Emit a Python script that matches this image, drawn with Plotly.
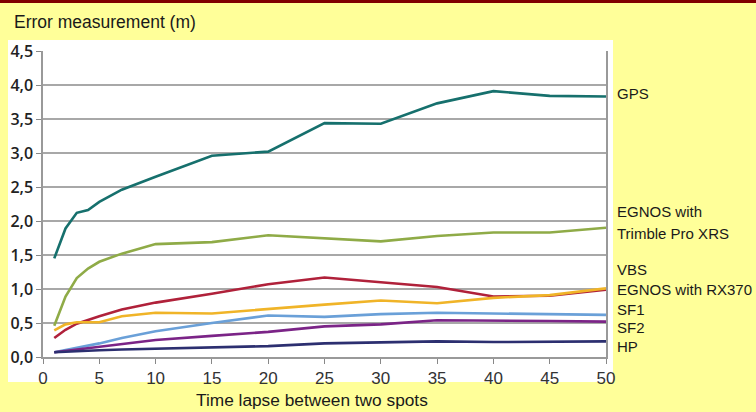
import plotly.graph_objects as go

time_lapse = [1, 2, 3, 4, 5, 7, 10, 15, 20, 25, 30, 35, 40, 45, 50]

gps = [1.45, 1.89, 2.12, 2.16, 2.28, 2.46, 2.65, 2.96, 3.02, 3.44, 3.43, 3.73, 3.91, 3.84, 3.83]
egnos_trimble = [0.46, 0.89, 1.16, 1.30, 1.40, 1.52, 1.66, 1.69, 1.79, 1.75, 1.70, 1.78, 1.83, 1.83, 1.90]
egnos_rx370 = [0.28, 0.40, 0.49, 0.55, 0.60, 0.70, 0.80, 0.93, 1.07, 1.17, 1.10, 1.03, 0.89, 0.90, 0.99]
vbs = [0.39, 0.48, 0.51, 0.51, 0.51, 0.60, 0.65, 0.64, 0.71, 0.77, 0.83, 0.79, 0.87, 0.91, 1.01]
sf1 = [0.07, 0.10, 0.13, 0.17, 0.20, 0.28, 0.38, 0.50, 0.61, 0.59, 0.63, 0.65, 0.64, 0.62, 0.62]
sf2 = [0.07, 0.09, 0.11, 0.12, 0.14, 0.19, 0.25, 0.31, 0.37, 0.45, 0.48, 0.54, 0.54, 0.53, 0.52]
hp = [0.07, 0.08, 0.09, 0.09, 0.10, 0.11, 0.12, 0.14, 0.16, 0.20, 0.22, 0.23, 0.22, 0.23, 0.23]

series_names = ["GPS", "EGNOS with Trimble Pro XRS", "EGNOS with RX370", "VBS", "SF1", "SF2", "HP"]
series_values = [gps, egnos_trimble, egnos_rx370, vbs, sf1, sf2, hp]
series_colors = ["#16706d", "#8fab47", "#b0213a", "#f0b428", "#6aa0d8", "#7b2487", "#2c2f70"]

# right-hand labels (text, y position in axis units)
label_texts = ["GPS", "EGNOS with", "Trimble Pro XRS", "VBS", "EGNOS with RX370", "SF1", "SF2", "HP"]
label_y = [3.88, 2.14, 1.82, 1.28, 0.99, 0.70, 0.44, 0.15]

y_ticks = [0, 0.5, 1, 1.5, 2, 2.5, 3, 3.5, 4, 4.5]
x_ticks = [0, 5, 10, 15, 20, 25, 30, 35, 40, 45, 50]

fig = go.Figure()
for name, vals, col in zip(series_names, series_values, series_colors):
    fig.add_trace(go.Scatter(x=time_lapse, y=vals, mode="lines", name=name,
                             line=dict(color=col, width=2.6), showlegend=False))

W, H = 756, 412
ml, mr, mt, mb = 43, 150, 51, 55
pw, ph = W - ml - mr, H - mt - mb

def px(x):
    return (x - ml) / pw

def py(y):
    return (H - mb - y) / ph

shapes = [
    dict(type="rect", xref="paper", yref="paper", x0=px(8), x1=px(613), y0=py(382), y1=py(40),
         fillcolor="white", line=dict(width=0), layer="below"),
    dict(type="rect", xref="paper", yref="paper", x0=px(0), x1=px(W), y0=py(3), y1=py(0),
         fillcolor="#800000", line=dict(width=0), layer="above"),
]

annotations = [
    dict(text="Error measurement (m)", xref="paper", yref="paper", x=px(12), y=py(22),
         xanchor="left", yanchor="middle", showarrow=False,
         font=dict(family="Liberation Sans, Arial", size=17.5, color="#1a1a1a")),
    dict(text="Time lapse between two spots", xref="paper", yref="paper", x=px(312), y=py(400),
         xanchor="center", yanchor="middle", showarrow=False,
         font=dict(family="Liberation Sans, Arial", size=17.3, color="#1a1a1a")),
]
for t, yv in zip(label_texts, label_y):
    annotations.append(dict(text=t, xref="paper", yref="y", x=px(615), y=yv,
                            xanchor="left", yanchor="middle", showarrow=False,
                            font=dict(family="Liberation Sans, Arial", size=15, color="#1a1a1a")))

fig.update_layout(
    width=W, height=H,
    margin=dict(l=ml, r=mr, t=mt, b=mb, pad=0),
    paper_bgcolor="#ffff99",
    plot_bgcolor="white",
    separators=", ",
    shapes=shapes,
    annotations=annotations,
    xaxis=dict(range=[0, 50], tickvals=x_ticks, ticks="outside", ticklen=5, tickcolor="#888",
               automargin=False, ticklabelstandoff=0,
               showgrid=False, zeroline=False, showline=True, linecolor="#999", linewidth=1.5,
               tickfont=dict(family="Liberation Sans, Arial", size=17, color="#333")),
    yaxis=dict(range=[0, 4.5], tickvals=y_ticks, tickformat=".1f", ticks="outside", ticklen=5,
               automargin=False,
               tickcolor="#888", showgrid=True, gridcolor="#a8a8a8", gridwidth=1.6,
               zeroline=False, showline=True, linecolor="#999", linewidth=1.5, mirror=True,
               tickfont=dict(family="Open Sans, Noto Sans", size=16, color="#222", weight=600)),
)

fig.write_html("out.html", config={"displayModeBar": False})

# remove the browser's default page margin so the figure sits at the window origin
with open("out.html", "r", encoding="utf-8") as f:
    html = f.read()
html = html.replace("<head>", "<head><style>html,body{margin:0;padding:0;overflow:hidden;}</style>", 1)
with open("out.html", "w", encoding="utf-8") as f:
    f.write(html)
